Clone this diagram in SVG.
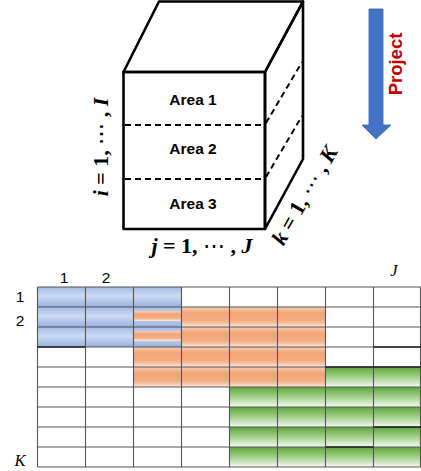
<svg xmlns="http://www.w3.org/2000/svg" width="421" height="471" viewBox="0 0 421 471">
<style>
.edge{fill:none;stroke:#000;stroke-width:2.6;stroke-linejoin:round}
.dash{fill:none;stroke:#000;stroke-width:2;stroke-dasharray:6 4}
.area{font-family:"Liberation Sans",Arial,sans-serif;font-weight:bold;font-size:15.5px;fill:#000;text-anchor:middle}
.math{font-family:"Liberation Serif","DejaVu Serif",serif;font-weight:bold;font-size:22px;fill:#000;text-anchor:middle}
.it{font-style:italic}
.dots{font-weight:normal}
.lbl{font-family:"Liberation Sans",Arial,sans-serif;font-size:15.5px;fill:#000;text-anchor:middle}
.lit{font-family:"Liberation Serif",serif;font-style:italic;font-size:16.5px;fill:#000;text-anchor:middle}
.grid{stroke:#555;stroke-width:1.1;fill:none}
.proj{font-family:"Liberation Sans",Arial,sans-serif;font-weight:bold;font-size:18.5px;fill:#c00000;text-anchor:middle}
</style>
<defs>
<linearGradient id="gb" x1="0" y1="0" x2="0" y2="1">
<stop offset="0" stop-color="#a3bbe6"/><stop offset="0.45" stop-color="#ccdaf2"/><stop offset="1" stop-color="#98b1df"/>
</linearGradient>
<linearGradient id="go" x1="0" y1="0" x2="0" y2="1">
<stop offset="0" stop-color="#f7cfb4"/><stop offset="0.3" stop-color="#f2a677"/><stop offset="0.7" stop-color="#f4ad84"/><stop offset="1" stop-color="#fde8da"/>
</linearGradient>
<linearGradient id="gg" x1="0" y1="0" x2="0" y2="1">
<stop offset="0" stop-color="#5fa63c"/><stop offset="0.5" stop-color="#a2d08a"/><stop offset="1" stop-color="#f6fbf3"/>
</linearGradient>
</defs>

<g id="cube">
<path class="edge" d="M123.5,72 L159,1.5 L303,1.5 L265,72 Z"/>
<path class="edge" d="M265,72 L303,1.5 L303,159 L265,229 Z"/>
<rect class="edge" x="123.5" y="72" width="141.5" height="157"/>
<line class="dash" x1="125" y1="125" x2="264" y2="125"/>
<line class="dash" x1="125" y1="179" x2="264" y2="179"/>
<line class="dash" x1="266" y1="123" x2="302" y2="62"/>
<line class="dash" x1="266" y1="177" x2="302" y2="116"/>
</g>
<g id="area1"><text class="area" x="193" y="105">Area 1</text></g>
<g id="area2"><text class="area" x="193" y="154">Area 2</text></g>
<g id="area3"><text class="area" x="193" y="209">Area 3</text></g>
<g id="label-i"><text class="math" transform="translate(108,147) rotate(-90)"><tspan class="it">i</tspan> = 1, <tspan class="dots">⋯</tspan> , <tspan class="it">I</tspan></text></g>
<g id="label-j"><text class="math" x="202" y="253"><tspan class="it">j</tspan> = 1, <tspan class="dots">⋯</tspan> , <tspan class="it">J</tspan></text></g>
<g id="label-k"><text class="math" transform="translate(311,199) rotate(-60)"><tspan class="it">k</tspan> = 1, <tspan class="dots">⋯</tspan> , <tspan class="it">K</tspan></text></g>

<g id="project">
<path d="M369,9 L383,9 L383,125 L391,125 L376,139 L362,125 L369,125 Z" fill="#4472c4" stroke="#3a62a8" stroke-width="0.8"/>
<text class="proj" transform="translate(402,64) rotate(-90)">Project</text>
</g>

<g id="matrix">
<rect x="37.5" y="287" width="144" height="20" fill="url(#gb)"/>
<rect x="37.5" y="307" width="144" height="20" fill="url(#gb)"/>
<rect x="37.5" y="327" width="144" height="20" fill="url(#gb)"/>
<rect x="133.5" y="311" width="48" height="10" fill="url(#go)"/>
<rect x="133.5" y="331" width="48" height="10" fill="url(#go)"/>
<rect x="181.5" y="307" width="144" height="20" fill="url(#go)"/>
<rect x="181.5" y="327" width="144" height="20" fill="url(#go)"/>
<rect x="133.5" y="347" width="192" height="20" fill="url(#go)"/>
<rect x="133.5" y="367" width="192" height="20" fill="url(#go)"/>
<rect x="325.5" y="367" width="96" height="20" fill="url(#gg)"/>
<rect x="229.5" y="387" width="192" height="20" fill="url(#gg)"/>
<rect x="229.5" y="407" width="192" height="20" fill="url(#gg)"/>
<rect x="229.5" y="427" width="192" height="20" fill="url(#gg)"/>
<rect x="229.5" y="447" width="192" height="20" fill="url(#gg)"/>
<path class="grid" d="M37.5,287 H421 M37.5,307 H421 M37.5,327 H421 M37.5,347 H421 M37.5,367 H421 M37.5,387 H421 M37.5,407 H421 M37.5,427 H421 M37.5,447 H421 M37.5,467 H421"/>
<path class="grid" d="M37.5,287 V467 M85.5,287 V467 M133.5,287 V467 M181.5,287 V467 M229.5,287 V467 M277.5,287 V467 M325.5,287 V467 M373.5,287 V467 M420.5,287 V467"/>
<path d="M37.5,347 H85.5 M373.5,347 H421 M325.5,367 H421 M325.5,447 H373.5 M373.5,427 H421" stroke="#222" stroke-width="1.4" fill="none"/>
<text class="lbl" x="64" y="283">1</text>
<text class="lbl" x="106" y="283">2</text>
<text class="lbl" x="20" y="302">1</text>
<text class="lbl" x="20" y="326">2</text>
<text class="lit" x="20" y="466">K</text>
<text class="lit" x="394" y="276">J</text>
</g>
</svg>
